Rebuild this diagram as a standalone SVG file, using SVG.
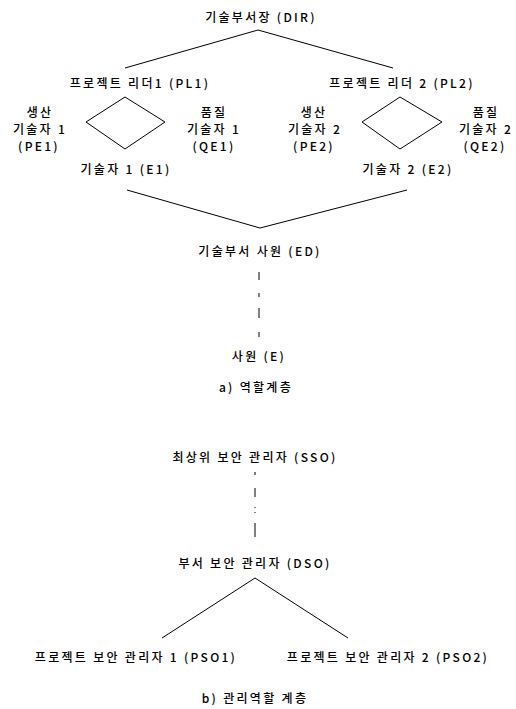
<svg xmlns="http://www.w3.org/2000/svg" width="516" height="709" viewBox="0 0 516 709">
<style>
text{font-family:"Noto Sans CJK KR","Noto Sans",sans-serif;font-size:12px;font-weight:500;fill:#000;text-anchor:middle;letter-spacing:2.3px}
.ln{fill:none;stroke:#000;stroke-width:1}
</style>
<rect width="516" height="709" fill="#fff"/>
<g id="connectors">
<polyline class="ln" points="125,68 258,30 393,68"/>
<polygon class="ln" points="125,97 165,122 125,149 86,122"/>
<polygon class="ln" points="400,97 442,122 400,149 362,122"/>
<polyline class="ln" points="127,190 260,228 407,190"/>
<line class="ln" x1="259" y1="272" x2="259" y2="337" stroke-dasharray="8,13,4,11,10,14,5"/>
<line class="ln" x1="255" y1="472" x2="255" y2="537" stroke-dasharray="3,13,9,10,1,4,1,10,14"/>
<polyline class="ln" points="162,638 255,578 348,638"/>
</g>
<g id="DIR"><text x="261" y="22">기술부서장 (DIR)</text></g>
<g id="PL1"><text x="140" y="88">프로젝트 리더1 (PL1)</text></g>
<g id="PL2"><text x="402" y="88">프로젝트 리더 2 (PL2)</text></g>
<g id="PE1"><text x="40" y="117">생산</text><text x="40" y="134">기술자 1</text><text x="39" y="151">(PE1)</text></g>
<g id="QE1"><text x="214" y="117">품질</text><text x="214" y="134">기술자 1</text><text x="214" y="151">(QE1)</text></g>
<g id="PE2"><text x="314" y="117">생산</text><text x="315" y="134">기술자 2</text><text x="314" y="151">(PE2)</text></g>
<g id="QE2"><text x="486" y="117">품질</text><text x="486" y="134">기술자 2</text><text x="485" y="151">(QE2)</text></g>
<g id="E1"><text x="126" y="174">기술자 1 (E1)</text></g>
<g id="E2"><text x="408" y="174">기술자 2 (E2)</text></g>
<g id="ED"><text x="260" y="256">기술부서 사원 (ED)</text></g>
<g id="E"><text x="259" y="361">사원 (E)</text></g>
<g id="captionA"><text x="256" y="392">a) 역할계층</text></g>
<g id="SSO"><text x="255" y="462">최상위 보안 관리자 (SSO)</text></g>
<g id="DSO"><text x="255" y="568">부서 보안 관리자 (DSO)</text></g>
<g id="PSO1"><text x="136" y="662">프로젝트 보안 관리자 1 (PSO1)</text></g>
<g id="PSO2"><text x="388" y="662">프로젝트 보안 관리자 2 (PSO2)</text></g>
<g id="captionB"><text x="255" y="703">b) 관리역할 계층</text></g>
</svg>
